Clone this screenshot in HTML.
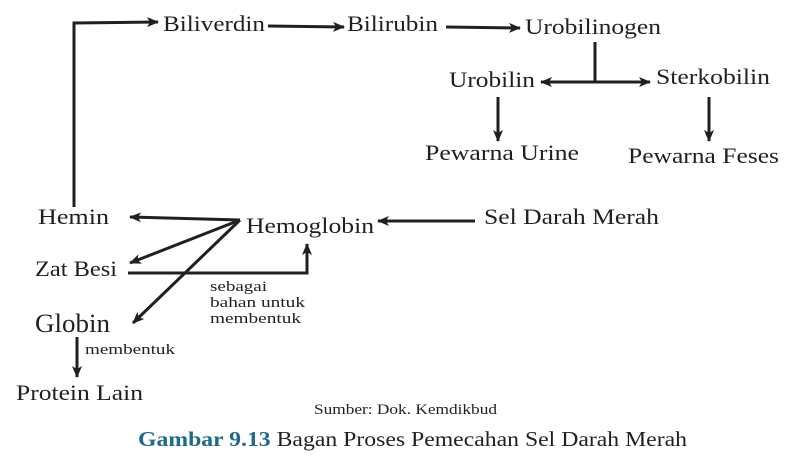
<!DOCTYPE html>
<html><head><meta charset="utf-8"><style>
html,body{margin:0;padding:0;background:#fff;width:789px;height:470px;overflow:hidden}
svg text{font-family:"Liberation Serif",serif;fill:#231f20}
</style></head><body>
<svg width="789" height="470" viewBox="0 0 789 470" xmlns="http://www.w3.org/2000/svg">
<defs><marker id="a" markerWidth="12" markerHeight="10" refX="11" refY="5" orient="auto" markerUnits="userSpaceOnUse"><path d="M0,0 L12,5 L0,10 L3,5 Z" fill="#231f20"/></marker></defs>
<g stroke="#231f20" stroke-width="3" fill="none">
<polyline points="74,207 74,23 158,22" marker-end="url(#a)"/>
<line x1="268" y1="26" x2="344" y2="27" marker-end="url(#a)"/>
<line x1="446" y1="27" x2="520" y2="28" marker-end="url(#a)"/>
<line x1="595" y1="42" x2="595" y2="82"/>
<line x1="595" y1="82" x2="541" y2="82" marker-end="url(#a)"/>
<line x1="595" y1="82" x2="650" y2="82" marker-end="url(#a)"/>
<line x1="498" y1="97" x2="498" y2="141" marker-end="url(#a)"/>
<line x1="709" y1="97" x2="709" y2="141" marker-end="url(#a)"/>
<line x1="475" y1="221" x2="378" y2="221" marker-end="url(#a)"/>
<line x1="240" y1="220" x2="130" y2="217" marker-end="url(#a)"/>
<line x1="240" y1="220" x2="130" y2="263" marker-end="url(#a)"/>
<line x1="240" y1="220" x2="133" y2="323" marker-end="url(#a)"/>
<polyline points="128,273 307,273 307,244" marker-end="url(#a)"/>
<line x1="77" y1="337" x2="77" y2="377" marker-end="url(#a)"/>
</g>
<g font-size="22" lengthAdjust="spacingAndGlyphs">
<text x="163" y="31" textLength="102" lengthAdjust="spacingAndGlyphs">Biliverdin</text>
<text x="347" y="31" textLength="91" lengthAdjust="spacingAndGlyphs">Bilirubin</text>
<text x="525" y="34" textLength="136" lengthAdjust="spacingAndGlyphs">Urobilinogen</text>
<text x="449" y="87" textLength="86" lengthAdjust="spacingAndGlyphs">Urobilin</text>
<text x="656" y="84" textLength="114" lengthAdjust="spacingAndGlyphs">Sterkobilin</text>
<text x="425" y="160" textLength="154" lengthAdjust="spacingAndGlyphs">Pewarna Urine</text>
<text x="628" y="163" textLength="151" lengthAdjust="spacingAndGlyphs">Pewarna Feses</text>
<text x="38" y="224" textLength="71" lengthAdjust="spacingAndGlyphs">Hemin</text>
<text x="246" y="233" textLength="128" lengthAdjust="spacingAndGlyphs">Hemoglobin</text>
<text x="484" y="224" textLength="175" lengthAdjust="spacingAndGlyphs">Sel Darah Merah</text>
<text x="35" y="276" textLength="82" lengthAdjust="spacingAndGlyphs">Zat Besi</text>
<text x="35" y="332" font-size="26" textLength="75" lengthAdjust="spacingAndGlyphs">Globin</text>
<text x="16" y="400" textLength="127" lengthAdjust="spacingAndGlyphs">Protein Lain</text>
</g>
<g font-size="15">
<text x="210" y="291" textLength="57" lengthAdjust="spacingAndGlyphs">sebagai</text>
<text x="210" y="307" textLength="95" lengthAdjust="spacingAndGlyphs">bahan untuk</text>
<text x="210" y="323" textLength="91" lengthAdjust="spacingAndGlyphs">membentuk</text>
<text x="85" y="354" textLength="90" lengthAdjust="spacingAndGlyphs">membentuk</text>
<text x="314" y="414" textLength="183" lengthAdjust="spacingAndGlyphs">Sumber: Dok. Kemdikbud</text>
</g>
<text x="138" y="446" font-size="21" textLength="549" lengthAdjust="spacingAndGlyphs"><tspan font-weight="bold" style="fill:#1d6a8a">Gambar 9.13</tspan> Bagan Proses Pemecahan Sel Darah Merah</text>
</svg>
</body></html>
